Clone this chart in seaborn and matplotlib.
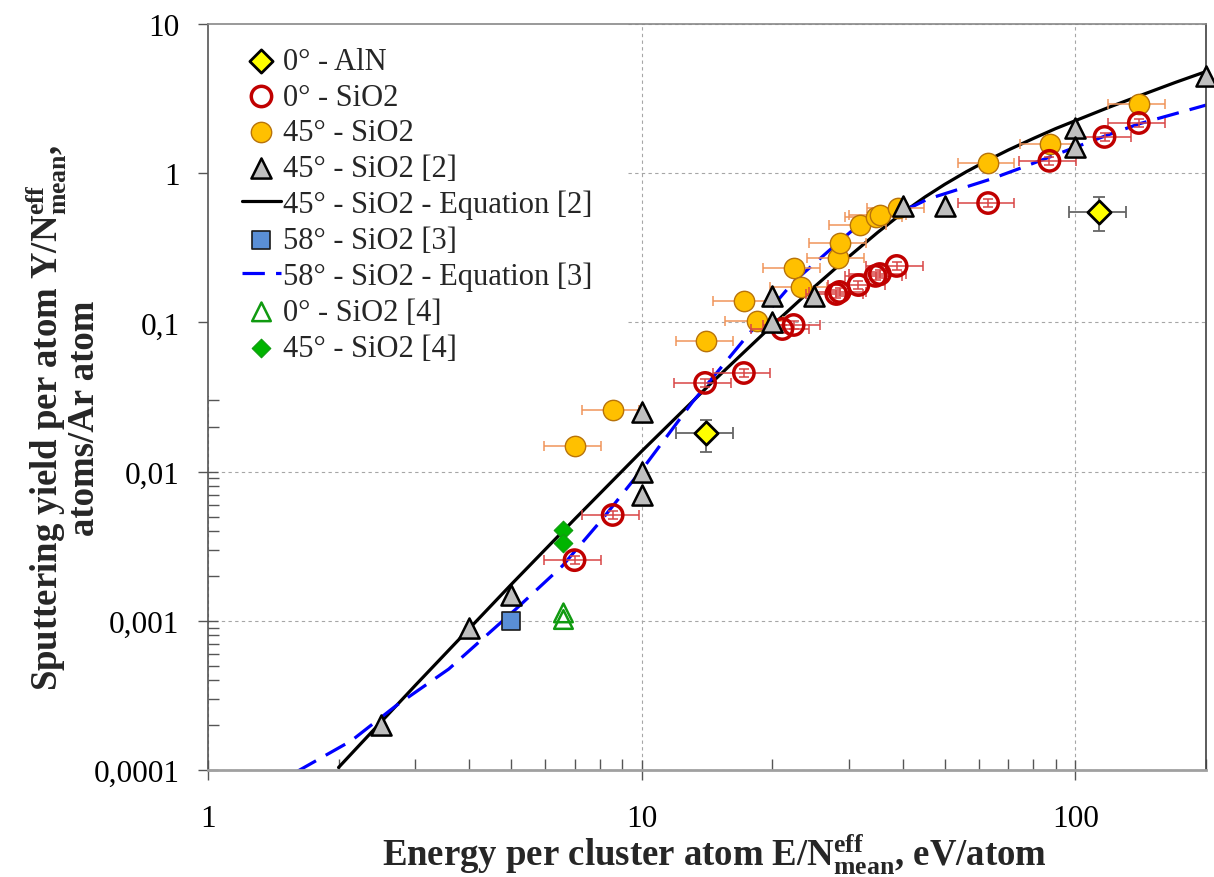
import matplotlib
matplotlib.use("Agg")
import matplotlib.pyplot as plt
import seaborn as sns
import numpy as np
from matplotlib.ticker import LogLocator, NullFormatter

# ---------------- data ----------------
# 0° - AlN
aln_x = [14.1, 113.6]
aln_y = [0.0181, 0.549]
aln_xerr = [2.1, 17.0]
aln_yerr_low = [0.0045, 0.14]
aln_yerr_high = [0.0041, 0.14]

# 0° - SiO2 (this work)
sio2_0_x = [7.0, 8.57, 14.0, 17.2, 21.1, 22.4, 28.1, 28.6, 31.6, 34.6, 35.4, 38.7, 62.9, 87.1, 116.7, 140.0]
sio2_0_y = [0.00255, 0.00512, 0.0393, 0.0458, 0.0903, 0.0961, 0.155, 0.160, 0.178, 0.205, 0.211, 0.239,
            0.631, 1.21, 1.75, 2.17]
sio2_0_xerr = [1.05, 1.29, 2.1, 2.6, 3.2, 3.4, 4.2, 4.3, 4.7, 5.2, 5.3, 5.8, 9.4, 13.1, 17.5, 21.0]
sio2_0_yerr = [0.00015, 0.0003, 0.0024, 0.0027, 0.0054, 0.0058, 0.0093, 0.0096, 0.011, 0.012, 0.013, 0.014,
               0.038, 0.073, 0.105, 0.13]

# 45° - SiO2 (this work)
sio2_45_x = [7.0, 8.57, 14.1, 17.2, 18.4, 22.4, 23.3, 28.3, 28.6, 31.8, 34.6, 35.4, 38.9, 62.9, 87.5, 140.0]
sio2_45_y = [0.0149, 0.0259, 0.075, 0.139, 0.102, 0.232, 0.173, 0.270, 0.340, 0.450, 0.508, 0.525, 0.585,
             1.17, 1.57, 2.91]
sio2_45_xerr = [1.05, 1.29, 2.1, 2.6, 2.8, 3.4, 3.5, 4.2, 4.3, 4.8, 5.2, 5.3, 5.8, 9.4, 13.1, 21.0]
sio2_45_yerr = [0.0012, 0.002, 0.006, 0.011, 0.008, 0.019, 0.014, 0.022, 0.027, 0.036, 0.04, 0.042, 0.047,
                0.09, 0.13, 0.23]

# 45° - SiO2 [2]
ref2_x = [2.5, 4, 5, 10, 10, 10, 20, 20, 25, 40, 50, 100, 100, 200]
ref2_y = [0.0002, 0.0009, 0.0015, 0.025, 0.01, 0.007, 0.15, 0.1, 0.15, 0.6, 0.6, 2.0, 1.5, 4.5]

# 45° - SiO2 - Equation [2] (curve)
eq2_x = [2, 3, 5, 7, 10, 14.4, 20, 25, 30, 35, 40, 45, 50, 56, 63, 70, 80, 90, 100, 120, 140, 170, 200]
eq2_y = [0.000104, 0.000367, 0.00175, 0.00479, 0.0137, 0.0387, 0.0955, 0.173, 0.275, 0.401, 0.544,
         0.693, 0.843, 1.022, 1.227, 1.43, 1.71, 1.99, 2.25, 2.78, 3.29, 4.06, 4.8]

# 58° - SiO2 [3]
ref3_x = [5]
ref3_y = [0.001]

# 58° - SiO2 - Equation [3] (curve)
eq3_x = [1.6, 2.14, 2.71, 3.59, 5.13, 6.56, 8.12, 10.16, 13.1, 17.5, 22.4, 26.8, 30.3, 32.0, 42.4, 45.7,
         63.9, 73.8, 101.6, 116.7, 140, 200]
eq3_y = [0.0000973, 0.000157, 0.000269, 0.000475, 0.00120, 0.00233, 0.00482, 0.0109, 0.0293, 0.0811,
         0.187, 0.296, 0.404, 0.443, 0.603, 0.671, 0.914, 1.067, 1.52, 1.77, 2.14, 2.86]

# 0° - SiO2 [4]
ref4_0_x = [6.6, 6.6]
ref4_0_y = [0.00113, 0.00102]

# 45° - SiO2 [4]
ref4_45_x = [6.6, 6.6]
ref4_45_y = [0.00406, 0.00332]

x_major = [1, 10, 100]
x_major_labels = ["1", "10", "100"]
y_major = [0.0001, 0.001, 0.01, 0.1, 1, 10]
y_major_labels = ["0,0001", "0,001", "0,01", "0,1", "1", "10"]

labels = ["0° - AlN", "0° - SiO2", "45° - SiO2", "45° - SiO2 [2]", "45° - SiO2 - Equation [2]",
          "58° - SiO2 [3]", "58° - SiO2 - Equation [3]", "0° - SiO2 [4]", "45° - SiO2 [4]"]

# ---------------- style ----------------
sns.set_style("white")
plt.rcParams["font.family"] = ["Liberation Serif", "DejaVu Serif"]
plt.rcParams["mathtext.fontset"] = "custom"
plt.rcParams["mathtext.rm"] = "Liberation Serif"
plt.rcParams["mathtext.it"] = "Liberation Serif:italic"
plt.rcParams["mathtext.bf"] = "Liberation Serif:bold"

fig = plt.figure(figsize=(12.14, 8.78), dpi=100)
ax = fig.add_axes([208 / 1214, 1 - 771 / 878, 998 / 1214, 746 / 878])
ax.set_xscale("log")
ax.set_yscale("log")

ORANGE = "#FFC000"
RED = "#C00000"
GREEN = "#00B400"
GREEN_OPEN = "#109A10"

# ---- curves ----
sns.lineplot(x=eq2_x, y=eq2_y, ax=ax, color="black", linewidth=2.3, sort=False, estimator=None,
             label=labels[4], zorder=2)
h_eq2 = ax.lines[-1]
sns.lineplot(x=eq3_x, y=eq3_y, ax=ax, color="#0000FF", linewidth=2.3, sort=False, estimator=None,
             label=labels[6], zorder=2)
h_eq3 = ax.lines[-1]
h_eq3.set_dashes([7, 3.5])

# ---- error bars ----
ax.errorbar(sio2_45_x, sio2_45_y, xerr=sio2_45_xerr, fmt="none", ecolor="#F0945A", elinewidth=1.1,
            capsize=3.5, capthick=1.1, zorder=2.4)
ax.errorbar(sio2_45_x, sio2_45_y, yerr=sio2_45_yerr, fmt="none", ecolor="#555555", elinewidth=1.1,
            capsize=3.5, capthick=1.1, zorder=2.4)
ax.errorbar(sio2_0_x, sio2_0_y, xerr=sio2_0_xerr, yerr=sio2_0_yerr, fmt="none", ecolor="#D84545",
            elinewidth=1.1, capsize=3.5, capthick=1.1, zorder=3.05)
ax.errorbar(aln_x, aln_y, xerr=aln_xerr, yerr=[aln_yerr_low, aln_yerr_high], fmt="none",
            ecolor="#666666", elinewidth=1.3, capsize=4, capthick=1.3, zorder=2.4)

# ---- markers ----
sns.scatterplot(x=sio2_45_x, y=sio2_45_y, ax=ax, marker="o", s=215, color=ORANGE,
                edgecolor="#B8730A", linewidth=1.0, label=labels[2], zorder=3)
h_45 = ax.collections[-1]
sns.scatterplot(x=sio2_0_x, y=sio2_0_y, ax=ax, marker="o", s=215, color=RED, facecolor="none",
                edgecolor=RED, linewidth=2.5, label=labels[1], zorder=3.1)
h_0 = ax.collections[-1]
sns.scatterplot(x=ref2_x, y=ref2_y, ax=ax, marker="^", s=210, color="#BFBFBF",
                edgecolor="black", linewidth=1.8, label=labels[3], zorder=3.2, clip_on=False)
h_r2 = ax.collections[-1]
sns.scatterplot(x=aln_x, y=aln_y, ax=ax, marker="D", s=140, color="#FFFF00",
                edgecolor="black", linewidth=2.0, label=labels[0], zorder=3.3)
h_aln = ax.collections[-1]
sns.scatterplot(x=ref3_x, y=ref3_y, ax=ax, marker="s", s=160, color="#5A8FD6",
                edgecolor="#1a1a1a", linewidth=1.2, label=labels[5], zorder=3.3)
h_r3 = ax.collections[-1]
sns.scatterplot(x=ref4_0_x, y=ref4_0_y, ax=ax, marker="^", s=180, color=GREEN_OPEN, facecolor="none",
                edgecolor=GREEN_OPEN, linewidth=1.8, label=labels[7], zorder=3.3)
h_r40 = ax.collections[-1]
sns.scatterplot(x=ref4_45_x, y=ref4_45_y, ax=ax, marker="D", s=90, color=GREEN,
                edgecolor="#109A10", linewidth=0.8, label=labels[8], zorder=3.3)
h_r45 = ax.collections[-1]

# ---- axes ----
ax.set_xlim(1, 200)
ax.set_ylim(1e-4, 10)
ax.set_xticks(x_major, labels=x_major_labels)
ax.set_yticks(y_major, labels=y_major_labels)
ax.xaxis.set_minor_locator(LogLocator(base=10, subs=np.arange(2, 10)))
ax.yaxis.set_minor_locator(LogLocator(base=10, subs=np.arange(2, 10)))
ax.xaxis.set_minor_formatter(NullFormatter())
ax.yaxis.set_minor_formatter(NullFormatter())
ax.tick_params(which="major", direction="inout", length=15, width=1.0, color="#555555",
               labelsize=22.5, labelcolor="black")
ax.tick_params(axis="y", which="major", pad=13)
ax.tick_params(axis="x", which="major", pad=17)
ax.tick_params(which="minor", direction="in", length=8, width=1.0, color="#555555")
ax.tick_params(bottom=True, left=True, top=False, right=False, which="both")

ax.grid(which="major", linestyle=(0, (3, 3)), color="#A6A6A6", linewidth=0.8)
ax.set_axisbelow(True)

ax.spines["left"].set_color("#555555")
ax.spines["left"].set_linewidth(1.2)
ax.spines["bottom"].set_color("#A0A0A0")
ax.spines["bottom"].set_linewidth(2.0)
ax.spines["top"].set_color("#888888")
ax.spines["top"].set_linewidth(1.2)
ax.spines["right"].set_color("#404040")
ax.spines["right"].set_linewidth(1.2)

ax.set_xlabel(r"Energy per cluster atom E/N$_{\mathbf{mean}}^{\mathbf{eff}}$, eV/atom",
              fontsize=26.5, fontweight="bold")
ax.set_ylabel("Sputtering yield per atom Y/N$_{\\mathbf{mean}}^{\\mathbf{eff}}$,\natoms/Ar atom",
              fontsize=26.5, fontweight="bold", multialignment="center", linespacing=0.95)
ax.xaxis.set_label_coords(0.507, -0.083)
ax.yaxis.set_label_coords(-0.106, 0.473)

handles = [h_aln, h_0, h_45, h_r2, h_eq2, h_r3, h_eq3, h_r40, h_r45]
leg = ax.legend(handles, labels, loc="upper left", bbox_to_anchor=(0.0, 1.0145),
                borderaxespad=0.0, borderpad=1.1, frameon=True, fancybox=False,
                framealpha=1.0, facecolor="white", edgecolor="none", fontsize=22,
                handlelength=1.3, handletextpad=0.05, labelspacing=0.22)
leg.set_zorder(2.2)

fig.savefig("out.png", dpi=100)
